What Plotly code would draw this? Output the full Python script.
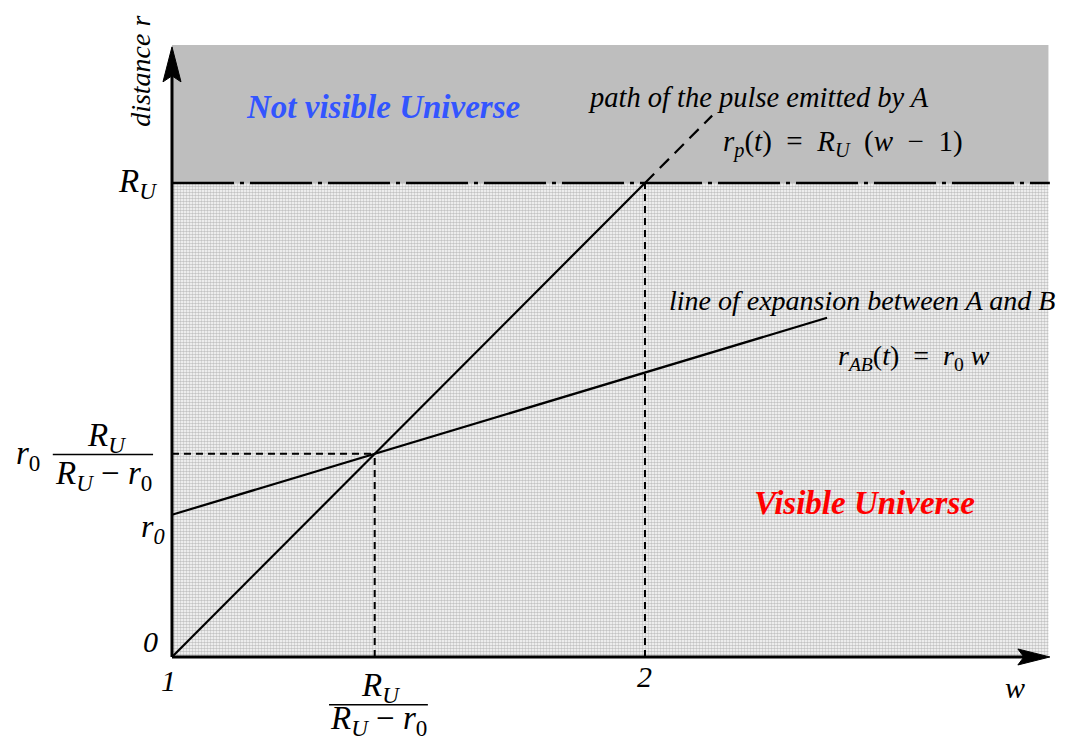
import plotly.graph_objects as go

# ---- data (w on x, distance r on y, R_U = 1) ----
R_U = 1.0
r0 = 0.3
w_cross = R_U / (R_U - r0)          # intersection of the two lines
r_cross = r0 * w_cross

pulse_w = [1.0, 2.0]                # solid part of r_p = R_U (w-1)
pulse_r = [0.0, 1.0]
pulse_dash_w = [2.0, 2.142]         # dashed continuation above R_U
pulse_dash_r = [1.0, 1.142]
ab_w = [1.0, 2.385]                 # r_AB = r0 w
ab_r = [0.3, 0.7155]

# full-figure plot area so nothing gets clipped
X_RANGE = [0.6533, 2.8732]
Y_RANGE = [-0.192, 1.369]
W_MIN = 1.0
W_TIP = 2.856
R_TOP = 1.291
W_EDGE = 2.853

FONT = "Liberation Serif"
FS = 28
MATH = 33

fig = go.Figure()

# stippled visible region
fig.add_trace(go.Scatter(
    x=[W_MIN, W_EDGE, W_EDGE, W_MIN, W_MIN], y=[0, 0, R_U, R_U, 0],
    mode="lines", fill="toself", line=dict(width=0, color="rgba(0,0,0,0)"),
    fillcolor="white",
    fillpattern=dict(shape=".", size=3, solidity=0.6, fgcolor="#888888", bgcolor="white"),
    hoverinfo="skip", showlegend=False))

line_style = dict(color="black", width=2.2)
fig.add_trace(go.Scatter(x=pulse_w, y=pulse_r, mode="lines", line=line_style,
                         showlegend=False, hoverinfo="skip"))
fig.add_trace(go.Scatter(x=pulse_dash_w, y=pulse_dash_r, mode="lines",
                         line=dict(color="black", width=2.2, dash="13px,8px"),
                         showlegend=False, hoverinfo="skip"))
fig.add_trace(go.Scatter(x=ab_w, y=ab_r, mode="lines", line=line_style,
                         showlegend=False, hoverinfo="skip"))

shapes = []
# grey non-visible region
shapes.append(dict(type="rect", xref="x", yref="y", x0=W_MIN, x1=W_EDGE, y0=R_U, y1=R_TOP,
                   fillcolor="#bebebe", line=dict(width=0), layer="below"))
# R_U dash-dot line
shapes.append(dict(type="line", xref="x", yref="y", x0=W_MIN, x1=W_TIP, y0=R_U, y1=R_U,
                   line=dict(color="black", width=2.5, dash="62px,6px,4px,6px")))
# dotted guides
guide = dict(color="black", width=2, dash="7px,5px")
shapes.append(dict(type="line", xref="x", yref="y", x0=W_MIN, x1=w_cross, y0=r_cross, y1=r_cross, line=guide))
shapes.append(dict(type="line", xref="x", yref="y", x0=w_cross, x1=w_cross, y0=0, y1=r_cross, line=guide))
shapes.append(dict(type="line", xref="x", yref="y", x0=2.0, x1=2.0, y0=0, y1=R_U, line=guide))
# axes
shapes.append(dict(type="line", xref="x", yref="y", x0=W_MIN, x1=2.80, y0=0, y1=0,
                   line=dict(color="black", width=3)))
shapes.append(dict(type="line", xref="x", yref="y", x0=W_MIN, x1=W_MIN, y0=0, y1=1.24,
                   line=dict(color="black", width=3)))
# arrow heads (pixel-sized)
shapes.append(dict(type="path", xref="x", yref="y", xsizemode="pixel", ysizemode="pixel",
                   xanchor=W_TIP, yanchor=0, path="M 0 0 L -32 8 L -26 0 L -32 -8 Z",
                   fillcolor="black", line=dict(color="black", width=1)))
shapes.append(dict(type="path", xref="x", yref="y", xsizemode="pixel", ysizemode="pixel",
                   xanchor=W_MIN, yanchor=R_TOP - 0.004, path="M 0 0 L -9 -35 L 0 -29 L 9 -35 Z",
                   fillcolor="black", line=dict(color="black", width=1)))
# fraction bars
shapes.append(dict(type="line", xref="x", yref="y", x0=0.748, x1=0.960, y0=0.427, y1=0.427,
                   line=dict(color="black", width=1.5)))
shapes.append(dict(type="line", xref="x", yref="y", x0=1.332, x1=1.541, y0=-0.101, y1=-0.101,
                   line=dict(color="black", width=1.5)))

RU = "<i>R</i><sub><i>U</i></sub>"
RU_r0 = "<i>R</i><sub><i>U</i></sub> − <i>r</i><sub>0</sub>"

def ann(x, y, text, size=FS, color="black", bold=False, angle=0):
    t = "<b>" + text + "</b>" if bold else text
    return dict(x=x, y=y, xref="x", yref="y", text=t, showarrow=False,
                font=dict(family=FONT, size=size, color=color), textangle=angle,
                xanchor="center", yanchor="middle")

annotations = [
    ann(0.932, 1.236, "<i>distance r</i>", angle=-90),
    ann(0.928, 0.998, RU, size=MATH),
    ann(0.960, 0.272, "<i>r<sub>0</sub></i>", size=32),
    ann(0.955, 0.032, "<i>0</i>", size=30),
    ann(0.992, -0.049, "<i>1</i>", size=30),
    ann(2.0, -0.042, "<i>2</i>", size=30),
    ann(2.782, -0.065, "<i>w</i>", size=30),
    ann(0.696, 0.424, "<i>r</i><sub>0</sub>", size=MATH),
    ann(0.862, 0.462, RU, size=MATH),
    ann(0.856, 0.382, RU_r0, size=MATH),
    ann(1.44, -0.064, RU, size=MATH),
    ann(1.436, -0.134, RU_r0, size=MATH),
    ann(2.239, 1.181, "<i>path of the pulse emitted by A</i>", size=28.5),
    ann(2.419, 1.084, "<i>r</i><sub><i>p</i></sub>(<i>t</i>)  =  " + RU + "  (<i>w</i>  −  1)", size=29),
    ann(2.458, 0.753, "<i>line of expansion between A and B</i>", size=28),
    ann(2.569, 0.631, "<i>r</i><sub><i>AB</i></sub>(<i>t</i>)  =  <i>r</i><sub>0</sub> <i>w</i>", size=28),
    ann(2.465, 0.325, "<i>Visible Universe</i>", size=33, color="#ff0000", bold=True),
    ann(1.446, 1.160, "<i>Not visible Universe</i>", size=33, color="#3355ff", bold=True),
]

fig.update_layout(
    width=1050, height=740,
    margin=dict(l=0, r=0, t=0, b=0, pad=0),
    paper_bgcolor="white", plot_bgcolor="white",
    xaxis=dict(range=X_RANGE, visible=False, fixedrange=True),
    yaxis=dict(range=Y_RANGE, visible=False, fixedrange=True),
    shapes=shapes, annotations=annotations, showlegend=False,
)

fig.write_html("out.html")
